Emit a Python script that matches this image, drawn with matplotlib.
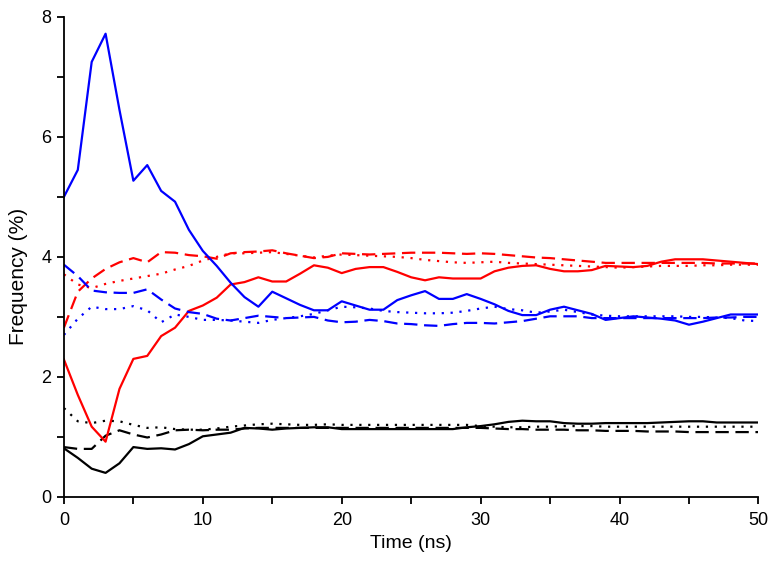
import matplotlib
matplotlib.use("Agg")
import matplotlib.pyplot as plt
from matplotlib.ticker import MultipleLocator

plt.rcParams['font.family'] = ['Liberation Sans', 'DejaVu Sans']

time_ns = list(range(0, 51))

blue_solid = [5.00, 5.45, 7.25, 7.72, 6.45, 5.27, 5.53, 5.10, 4.92, 4.45,
              4.10, 3.85, 3.57, 3.33, 3.17, 3.42, 3.31, 3.20, 3.11, 3.11,
              3.26, 3.19, 3.12, 3.12, 3.28, 3.36, 3.43, 3.30, 3.30, 3.38,
              3.30, 3.21, 3.10, 3.03, 3.03, 3.12, 3.17, 3.11, 3.05, 2.95,
              2.98, 3.01, 2.99, 2.97, 2.94, 2.87, 2.92, 2.98, 3.04, 3.04, 3.04]
blue_dashed = [3.87, 3.68, 3.44, 3.41, 3.40, 3.40, 3.46, 3.29, 3.14, 3.08,
               3.05, 2.97, 2.94, 2.98, 3.02, 3.00, 2.98, 2.99, 3.00, 2.94,
               2.91, 2.92, 2.95, 2.93, 2.89, 2.88, 2.86, 2.85, 2.88, 2.90,
               2.90, 2.89, 2.91, 2.93, 2.97, 3.01, 3.01, 3.01, 2.98, 2.98,
               2.98, 2.98, 2.98, 2.98, 2.98, 2.98, 2.98, 2.99, 2.99, 3.00, 3.00]
blue_dotted = [2.70, 2.97, 3.17, 3.13, 3.13, 3.18, 3.11, 2.91, 3.04, 3.00,
               2.95, 2.95, 2.94, 2.92, 2.90, 2.95, 2.98, 3.01, 3.05, 3.11,
               3.17, 3.16, 3.14, 3.10, 3.08, 3.07, 3.06, 3.06, 3.07, 3.10,
               3.14, 3.17, 3.13, 3.11, 3.07, 3.09, 3.12, 3.08, 3.04, 3.02,
               3.01, 3.01, 3.01, 3.01, 3.01, 3.00, 3.00, 2.99, 2.98, 2.94, 2.93]
red_solid = [2.29, 1.70, 1.17, 0.92, 1.80, 2.30, 2.35, 2.68, 2.82, 3.10,
             3.19, 3.32, 3.54, 3.58, 3.66, 3.59, 3.59, 3.72, 3.86, 3.82,
             3.73, 3.80, 3.83, 3.83, 3.75, 3.66, 3.61, 3.66, 3.64, 3.64,
             3.64, 3.76, 3.82, 3.85, 3.86, 3.80, 3.76, 3.76, 3.78, 3.85,
             3.84, 3.83, 3.85, 3.92, 3.96, 3.96, 3.96, 3.94, 3.92, 3.90, 3.88]
red_dashed = [2.82, 3.42, 3.64, 3.80, 3.91, 3.98, 3.91, 4.08, 4.07, 4.03,
              4.01, 3.97, 4.06, 4.08, 4.09, 4.11, 4.06, 4.02, 3.98, 4.00,
              4.06, 4.05, 4.04, 4.05, 4.06, 4.07, 4.07, 4.07, 4.06, 4.05,
              4.06, 4.05, 4.03, 4.01, 3.99, 3.98, 3.96, 3.94, 3.92, 3.90,
              3.90, 3.90, 3.90, 3.90, 3.90, 3.90, 3.90, 3.89, 3.89, 3.89, 3.89]
red_dotted = [3.71, 3.54, 3.48, 3.55, 3.60, 3.64, 3.68, 3.72, 3.79, 3.85,
              3.94, 4.00, 4.06, 4.06, 4.07, 4.08, 4.05, 4.02, 3.99, 4.02,
              4.04, 4.03, 4.02, 4.01, 4.00, 3.98, 3.95, 3.93, 3.91, 3.90,
              3.91, 3.92, 3.90, 3.89, 3.88, 3.87, 3.86, 3.85, 3.84, 3.83,
              3.82, 3.83, 3.84, 3.85, 3.85, 3.85, 3.86, 3.86, 3.87, 3.87, 3.87]
black_solid = [0.81, 0.65, 0.47, 0.40, 0.56, 0.83, 0.80, 0.81, 0.79, 0.88,
               1.01, 1.04, 1.07, 1.15, 1.14, 1.12, 1.14, 1.15, 1.16, 1.16,
               1.13, 1.13, 1.13, 1.13, 1.13, 1.13, 1.13, 1.13, 1.13, 1.16,
               1.18, 1.21, 1.25, 1.27, 1.26, 1.26, 1.23, 1.22, 1.22, 1.23,
               1.23, 1.23, 1.23, 1.24, 1.25, 1.26, 1.26, 1.24, 1.24, 1.24, 1.24]
black_dashed = [0.83, 0.80, 0.80, 1.02, 1.11, 1.04, 0.99, 1.04, 1.11, 1.12,
                1.11, 1.12, 1.12, 1.14, 1.15, 1.15, 1.15, 1.15, 1.15, 1.15,
                1.15, 1.15, 1.15, 1.15, 1.15, 1.15, 1.15, 1.15, 1.15, 1.15,
                1.15, 1.14, 1.13, 1.13, 1.12, 1.12, 1.12, 1.11, 1.11, 1.10,
                1.10, 1.10, 1.09, 1.09, 1.09, 1.08, 1.08, 1.08, 1.08, 1.08, 1.08]
black_dotted = [1.48, 1.26, 1.23, 1.27, 1.26, 1.20, 1.15, 1.16, 1.13, 1.12,
                1.12, 1.14, 1.17, 1.19, 1.21, 1.22, 1.21, 1.20, 1.20, 1.21,
                1.20, 1.20, 1.20, 1.20, 1.20, 1.20, 1.20, 1.20, 1.20, 1.20,
                1.18, 1.17, 1.16, 1.16, 1.17, 1.17, 1.18, 1.18, 1.18, 1.17,
                1.17, 1.17, 1.17, 1.17, 1.17, 1.17, 1.17, 1.17, 1.17, 1.17, 1.17]

x_ticks = [0, 10, 20, 30, 40, 50]
y_ticks = [0, 2, 4, 6, 8]
x_label = "Time (ns)"
y_label = "Frequency (%)"

fig = plt.figure(figsize=(7.7, 5.64), dpi=100)
ax = fig.add_axes([0.083, 0.119, 0.902, 0.851])

blue = '#0000ff'
red = '#ff0000'
black = '#000000'
lw = 1.6
dash = (0, (6, 3))
dot = (0, (1, 3))

series = [
    (black_dotted, black, dot), (black_dashed, black, dash), (black_solid, black, '-'),
    (red_dotted, red, dot), (red_dashed, red, dash), (red_solid, red, '-'),
    (blue_dotted, blue, dot), (blue_dashed, blue, dash), (blue_solid, blue, '-'),
]
for vals, col, ls in series:
    ax.plot(time_ns, vals, color=col, linestyle=ls, linewidth=lw)

ax.set_xlim(0, 50)
ax.set_ylim(0, 8)
ax.set_xticks(x_ticks)
ax.set_yticks(y_ticks)
ax.xaxis.set_minor_locator(MultipleLocator(5))
ax.yaxis.set_minor_locator(MultipleLocator(1))
for s in ['top', 'right']:
    ax.spines[s].set_visible(False)
for s in ['left', 'bottom']:
    ax.spines[s].set_linewidth(1.3)
ax.tick_params(which='both', direction='out', length=5, width=1.3, labelsize=13)
ax.tick_params(axis='x', pad=6)
ax.tick_params(axis='y', pad=4)
ax.set_xlabel(x_label, fontsize=14, labelpad=4)
ax.set_ylabel(y_label, fontsize=15)
ax.yaxis.set_label_coords(-0.052, 0.46)

fig.savefig("out.png", dpi=100)
